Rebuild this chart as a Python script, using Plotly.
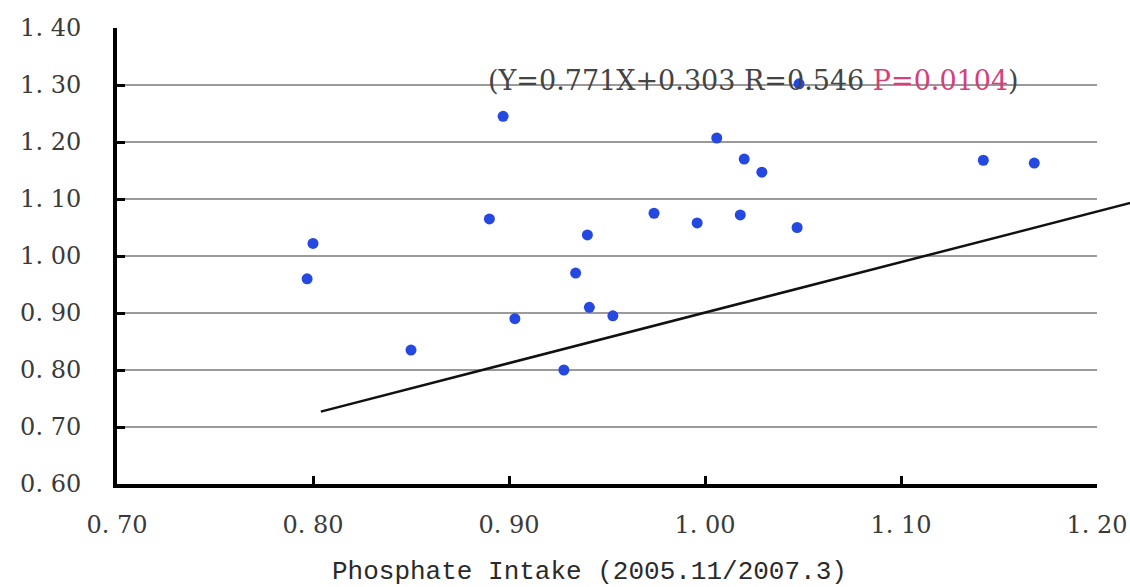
import plotly.graph_objects as go

# Data
phosphate_x = [0.797, 0.800, 0.850, 0.890, 0.897, 0.903, 0.928, 0.934, 0.940, 0.941,
               0.953, 0.974, 0.996, 1.006, 1.020, 1.018, 1.029, 1.047, 1.048, 1.142, 1.168]
ratio_y = [0.960, 1.022, 0.835, 1.065, 1.245, 0.890, 0.800, 0.970, 1.037, 0.910,
           0.895, 1.075, 1.058, 1.207, 1.170, 1.072, 1.147, 1.050, 1.302, 1.168, 1.163]

trend_x = [0.804, 1.217]
trend_y = [0.727, 1.093]

x_ticks = [0.70, 0.80, 0.90, 1.00, 1.10, 1.20]
x_tick_labels = ["0. 70", "0. 80", "0. 90", "1. 00", "1. 10", "1. 20"]
y_ticks = [0.60, 0.70, 0.80, 0.90, 1.00, 1.10, 1.20, 1.30, 1.40]
y_tick_labels = ["0. 60", "0. 70", "0. 80", "0. 90", "1. 00", "1. 10", "1. 20", "1. 30", "1. 40"]

x_title = "Phosphate Intake (2005.11/2007.3)"
eq_text = "(Y=0.771X+0.303 R=0.546 <span style='color:#d4407a'>P=0.0104</span>)"

W, H = 1130, 587
ML, MR, MT, MB = 117, 0, 28, 103
plot_w = W - ML - MR
main_w = 980
dom_end = main_w / plot_w
x_range = [0.70, 1.20]
x2_end = x_range[0] + (x_range[1] - x_range[0]) / dom_end

fig = go.Figure()

fig.add_trace(go.Scatter(
    x=trend_x, y=trend_y, mode="lines",
    line=dict(color="#111111", width=2.5),
    xaxis="x2", yaxis="y2", showlegend=False, hoverinfo="skip"))

fig.add_trace(go.Scatter(
    x=phosphate_x, y=ratio_y, mode="markers",
    marker=dict(color="#2448e0", size=11, line=dict(width=0)),
    showlegend=False, cliponaxis=False))

tick_font = dict(family="DejaVu Serif", size=24, color="#3a3a3a")

fig.update_layout(
    width=W, height=H,
    margin=dict(l=ML, r=MR, t=MT, b=MB, autoexpand=False),
    paper_bgcolor="white",
    plot_bgcolor="rgba(0,0,0,0)",
    xaxis=dict(
        domain=[0, dom_end], range=x_range,
        tickmode="array", tickvals=x_ticks, ticktext=x_tick_labels,
        ticks="inside", ticklen=8, tickwidth=3, tickcolor="black",
        showline=True, linecolor="black", linewidth=4,
        showgrid=False, zeroline=False,
        tickfont=tick_font, ticklabelstandoff=16,
    ),
    yaxis=dict(
        domain=[0, 1], range=[0.60, 1.40],
        tickmode="array", tickvals=y_ticks, ticktext=y_tick_labels,
        ticks="inside", ticklen=8, tickwidth=3, tickcolor="black",
        showline=True, linecolor="black", linewidth=4,
        showgrid=True, gridcolor="#9a9a9a", gridwidth=1.5,
        zeroline=False, tickfont=tick_font, ticklabelstandoff=27,
    ),
    xaxis2=dict(domain=[0, 1], range=[x_range[0], x2_end], anchor="y2", visible=False, fixedrange=True),
    yaxis2=dict(domain=[0, 1], range=[0.60, 1.40], anchor="x2", visible=False, fixedrange=True),
    annotations=[
        dict(x=1.0245, y=1.30, xref="x", yref="y", text=eq_text, showarrow=False,
             xanchor="center", yanchor="middle", yshift=5,
             font=dict(family="DejaVu Serif", size=27, color="#444444")),
        dict(x=0.941, y=0, xref="x", yref="paper", text=x_title, showarrow=False,
             xanchor="center", yanchor="middle", yshift=-88,
             font=dict(family="Liberation Mono", size=26, color="#2a2a2a")),
    ],
)

fig.write_html("out.html")
